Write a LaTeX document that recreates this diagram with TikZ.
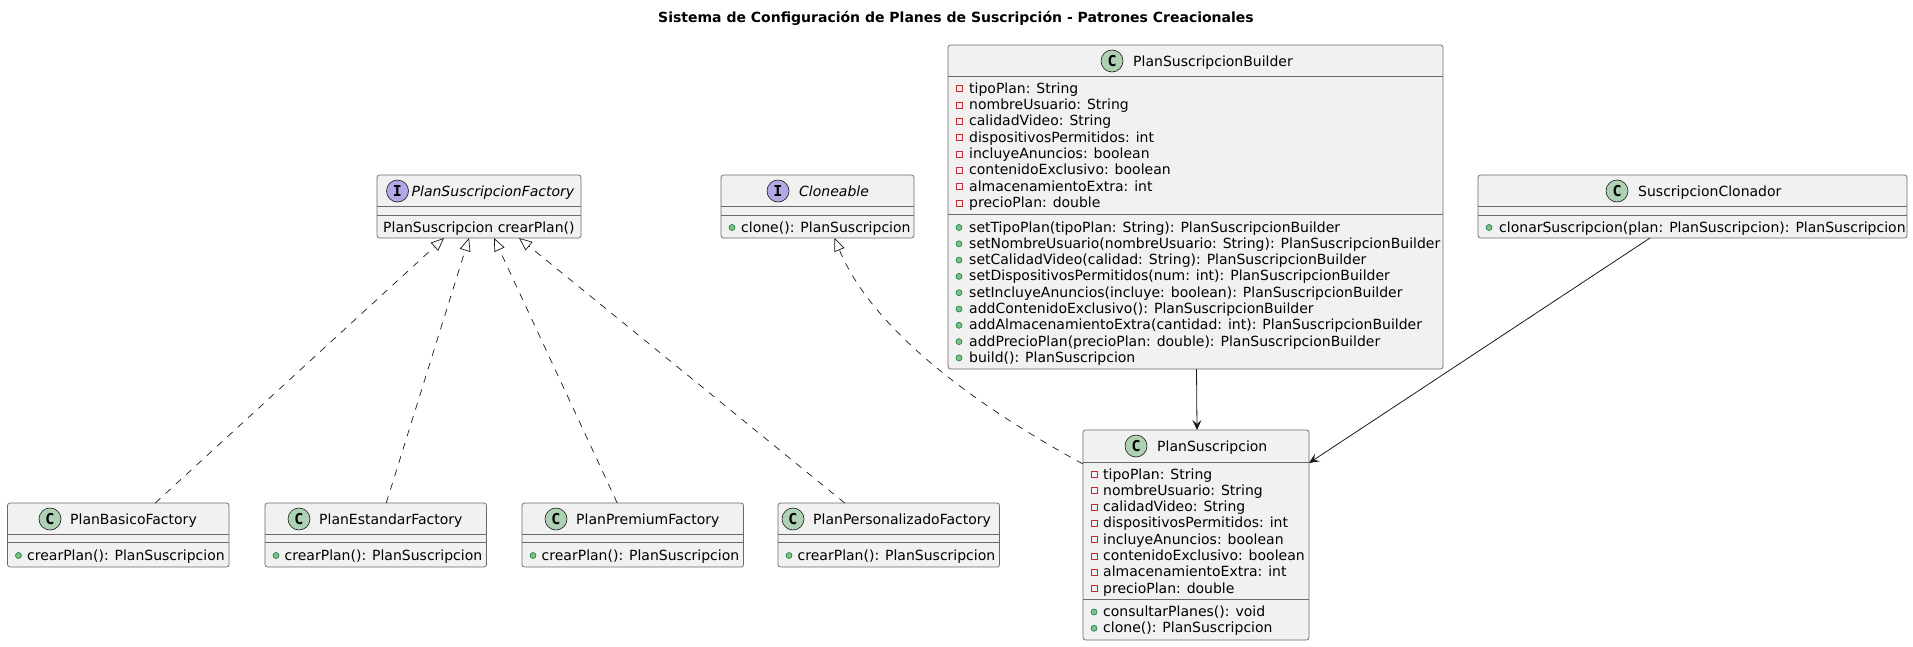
\documentclass[tikz,border=0pt]{standalone}
\usepackage{fontspec}
\setmainfont{DejaVu Sans}
\newfontfamily\spotfont{DejaVu Sans Mono}
\usetikzlibrary{arrows.meta}

% fields shared by the builder and the product
\newcommand{\planfields}{tipoPlan: String, nombreUsuario: String, calidadVideo: String,
  dispositivosPermitidos: int, incluyeAnuncios: boolean, contenidoExclusivo: boolean,
  almacenamientoExtra: int, precioPlan: double}

\begin{document}
\begin{tikzpicture}[x=1pt, y=-1pt,
    font=\fontsize{14}{16.3}\selectfont,
    box/.style={draw=boxline, fill=umlfill, line width=0.7pt, rounded corners=2.5pt,
      anchor=north west, inner sep=0pt, outer sep=0pt},
    sep/.style={draw=boxline, line width=0.7pt},
    member/.style={anchor=base west, inner sep=0pt},
    spot/.style={circle, draw=umlline, line width=0.6pt, minimum size=22pt, inner sep=0pt,
      font=\spotfont\bfseries\fontsize{15}{15}\selectfont},
    priv/.style={draw=privred, line width=0.8pt, minimum size=6pt, inner sep=0pt},
    pub/.style={circle, draw=pubdark, fill=pubgreen, line width=0.6pt, minimum size=6pt, inner sep=0pt},
    realize/.style={draw=umlline, line width=0.7pt, dash pattern=on 7pt off 7pt,
      -{Triangle[open, length=13pt, width=11pt]}},
    assoc/.style={draw=umlline, line width=0.8pt, -{Stealth[length=10pt, width=9pt, inset=4pt]}}]
  \definecolor{umlfill}{HTML}{F1F1F1}
  \definecolor{umlline}{HTML}{181818}
  \definecolor{boxline}{HTML}{6A6A6A}
  \definecolor{spotgreen}{HTML}{ADD1B2}
  \definecolor{spotpurple}{HTML}{B4A7E5}
  \definecolor{privred}{HTML}{C82930}
  \definecolor{pubgreen}{HTML}{84BE84}
  \definecolor{pubdark}{HTML}{038048}
  \useasboundingbox (0,0) rectangle (1913,646);

  \node[font=\bfseries\fontsize{14}{16}\selectfont, anchor=base, inner sep=0pt] (title) at (956,22)
    {Sistema de Configuración de Planes de Suscripción - Patrones Creacionales};

  % interface PlanSuscripcionFactory
  \node[box, minimum width=204pt, minimum height=63pt] (fac) at (377,175) {};
  \draw[sep] ([yshift=-31pt]fac.north west) -- ([yshift=-31pt]fac.north east);
  \draw[sep] ([yshift=-40pt]fac.north west) -- ([yshift=-40pt]fac.north east);
  \node[spot, fill=spotpurple] (fac-spot) at (397.5,191) {I};
  \node[member] (fac-name) at (411.5,196) {\itshape PlanSuscripcionFactory};
  \node[member] (fac-m) at (383,232) {PlanSuscripcion crearPlan()};

  % interface Cloneable
  \node[box, minimum width=193pt, minimum height=63pt] (cln) at (721,175) {};
  \draw[sep] ([yshift=-31pt]cln.north west) -- ([yshift=-31pt]cln.north east);
  \draw[sep] ([yshift=-40pt]cln.north west) -- ([yshift=-40pt]cln.north east);
  \node[spot, fill=spotpurple] (cln-spot) at (778,191) {I};
  \node[member] (cln-name) at (799,196) {\itshape Cloneable};
  \node[pub] (cln-pm) at (732,227.5) {};
  \node[member] (cln-m) at (741,232) {clone(): PlanSuscripcion};

  % PlanSuscripcionBuilder
  \node[box, minimum width=495pt, minimum height=324pt] (bld) at (948,45) {};
  \draw[sep] ([yshift=-31pt]bld.north west) -- ([yshift=-31pt]bld.north east);
  \draw[sep] ([yshift=-169pt]bld.north west) -- ([yshift=-169pt]bld.north east);
  \node[spot, fill=spotgreen] (bld-spot) at (1112,61) {C};
  \node[member] (bld-name) at (1133,66) {PlanSuscripcionBuilder};
  \foreach \m [count=\i from 0] in \planfields {
    \node[priv] (bld-pa\i) at (959,88.8+16.3*\i) {};
    \node[member] (bld-a\i) at (969,93.3+16.3*\i) {\m};
  }
  \foreach \m [count=\i from 0] in {setTipoPlan(tipoPlan: String): PlanSuscripcionBuilder,
      setNombreUsuario(nombreUsuario: String): PlanSuscripcionBuilder,
      setCalidadVideo(calidad: String): PlanSuscripcionBuilder,
      setDispositivosPermitidos(num: int): PlanSuscripcionBuilder,
      setIncluyeAnuncios(incluye: boolean): PlanSuscripcionBuilder,
      addContenidoExclusivo(): PlanSuscripcionBuilder,
      addAlmacenamientoExtra(cantidad: int): PlanSuscripcionBuilder,
      addPrecioPlan(precioPlan: double): PlanSuscripcionBuilder,
      build(): PlanSuscripcion} {
    \node[pub] (bld-pm\i) at (959,227.5+16.3*\i) {};
    \node[member] (bld-m\i) at (969,232+16.3*\i) {\m};
  }

  % SuscripcionClonador
  \node[box, minimum width=429pt, minimum height=63pt] (clo) at (1478,175) {};
  \draw[sep] ([yshift=-31pt]clo.north west) -- ([yshift=-31pt]clo.north east);
  \draw[sep] ([yshift=-40pt]clo.north west) -- ([yshift=-40pt]clo.north east);
  \node[spot, fill=spotgreen] (clo-spot) at (1617,191) {C};
  \node[member] (clo-name) at (1638,196) {SuscripcionClonador};
  \node[pub] (clo-pm) at (1489,227.5) {};
  \node[member] (clo-m) at (1499,232) {clonarSuscripcion(plan: PlanSuscripcion): PlanSuscripcion};

  % PlanSuscripcion
  \node[box, minimum width=226pt, minimum height=210pt] (pln) at (1083,430) {};
  \draw[sep] ([yshift=-32pt]pln.north west) -- ([yshift=-32pt]pln.north east);
  \draw[sep] ([yshift=-169pt]pln.north west) -- ([yshift=-169pt]pln.north east);
  \node[spot, fill=spotgreen] (pln-spot) at (1136,446) {C};
  \node[member] (pln-name) at (1157,451) {PlanSuscripcion};
  \foreach \m [count=\i from 0] in \planfields {
    \node[priv] (pln-pa\i) at (1094,474.5+16.3*\i) {};
    \node[member] (pln-a\i) at (1103,479+16.3*\i) {\m};
  }
  \foreach \m [count=\i from 0] in {consultarPlanes(): void, clone(): PlanSuscripcion} {
    \node[pub] (pln-pm\i) at (1094,612+16.3*\i) {};
    \node[member] (pln-m\i) at (1103,616.5+16.3*\i) {\m};
  }

  % concrete factories
  \foreach \n/\x/\nm/\nx in {bas/7.5/PlanBasicoFactory/70, est/265/PlanEstandarFactory/319,
      pre/522/PlanPremiumFactory/576, per/778/PlanPersonalizadoFactory/813} {
    \node[box, minimum width=221.5pt, minimum height=64pt] (\n) at (\x,503) {};
    \draw[sep] ([yshift=-31pt]\n.north west) -- ([yshift=-31pt]\n.north east);
    \draw[sep] ([yshift=-39pt]\n.north west) -- ([yshift=-39pt]\n.north east);
    \node[spot, fill=spotgreen] (\n-spot) at (\nx-20,519) {C};
    \node[member] (\n-name) at (\nx,524) {\nm};
    \node[pub] (\n-pm) at (\x+11,555.5) {};
    \node[member] (\n-m) at (\x+19.5,560) {crearPlan(): PlanSuscripcion};
  }

  % relations
  \draw[realize] ([xshift=37pt]bas.north) -- ([xshift=-35pt]fac.south);
  \draw[realize] ([xshift=10.5pt]est.north) -- ([xshift=-10pt]fac.south);
  \draw[realize] ([xshift=-15.5pt]pre.north) -- ([xshift=15pt]fac.south);
  \draw[realize] ([xshift=-44pt]per.north) -- ([xshift=40pt]fac.south);
  \draw[realize] ([yshift=-34pt]pln.north west) .. controls (920,375) and (860,300) .. ([xshift=17pt]cln.south);
  \draw[assoc] ([xshift=1pt]bld.south) -- ([xshift=1pt]pln.north);
  \draw[assoc] ([xshift=-42.5pt]clo.south) -- ([yshift=-33pt]pln.north east);
\end{tikzpicture}
\end{document}
